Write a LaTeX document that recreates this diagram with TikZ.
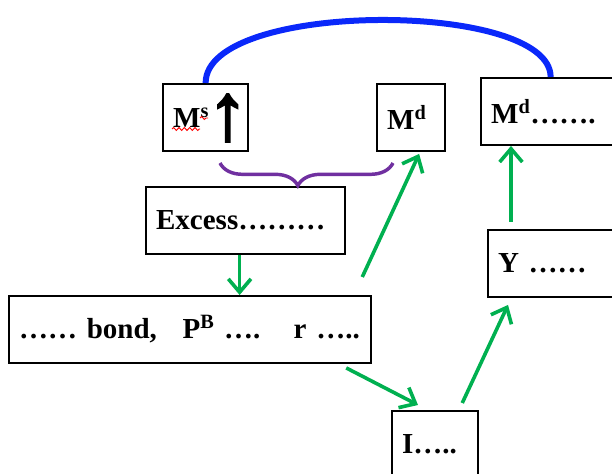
\documentclass[tikz,border=0pt]{standalone}
\usepackage{fontspec}
\setmainfont{Liberation Serif}
\newfontfamily\arrowfont[FakeBold=3]{Liberation Serif}
\usetikzlibrary{arrows.meta,calc,decorations.pathreplacing,decorations.pathmorphing}
\definecolor{flowgreen}{RGB}{0,176,80}
\definecolor{bracepurple}{RGB}{112,48,160}
\definecolor{arcblue}{RGB}{10,40,250}
\newcommand{\upglyph}{\smash{\arrowfont\fontsize{60}{60}\selectfont\raisebox{-9pt}{↑}}}

\begin{document}
\begin{tikzpicture}[x=0.75pt, y=-0.75pt,
  box/.style={draw, line width=1.7pt, anchor=north west, align=left,
    inner xsep=7.5pt, inner ysep=0pt, minimum height=50pt,
    font=\fontsize{21.75}{26}\selectfont\bfseries},
  flow/.style={draw=flowgreen, line width=2.7pt,
    -{Straight Barb[length=10pt,width=17pt]}}]
\useasboundingbox (0,0) rectangle (612,474);
\clip (0,0) rectangle (612,474);

% money market boxes (top row)
\node[box, text width=48.75pt] (ms) at (162,83) {\mbox{M\textsuperscript{s}\kern-1pt\upglyph}};
\node[box, text width=36pt] (md) at (376,83) {M\textsuperscript{d}};
\node[box, text width=89.25pt] (mdd) at (480,77) {M\textsuperscript{d}…….};

% middle and lower boxes
\node[box, text width=134.25pt] (excess) at (145,186) {Excess………};
\node[box, text width=256.5pt] (bond) at (8,295)
  {\mbox{…… bond,\hspace{0.55em} P\textsuperscript{B} ….\hspace{0.65em} r …..}};
\node[box, text width=90pt] (y) at (487,229) {Y ……};
\node[box, text width=49.5pt] (i) at (391,410) {I…..};

% red spell-check squiggle under M^s
\draw[red, line width=0.7pt, decorate,
  decoration={snake, amplitude=1.1pt, segment length=4pt}] (172,129) -- (200,129);
\draw[red, line width=0.7pt, decorate,
  decoration={snake, amplitude=1.1pt, segment length=4pt}] (200,118) -- (208,118);

% blue arc joining supply and demand
\draw[arcblue, line width=4.5pt] (ms.north) .. controls +(0,-83) and +(0,-77) .. (mdd.north);

% purple brace under M^s and M^d
\coordinate (braceleft) at (220,163);
\coordinate (braceright) at (393,163);
\draw[bracepurple, line width=2.6pt, decorate,
  decoration={brace, amplitude=17pt, aspect=0.45, mirror}] (braceleft) -- (braceright);

% green chain of effects
\draw[flow] ($(excess.south)+(-6,0)$) -- ($(excess.south |- bond.north)+(-6,0)$);
\draw[flow] ($(bond.north east)+(-10,-18)$) -- ($(md.south)+(8,2)$);
\draw[flow] ($(bond.south east)+(-26,4)$) -- ($(i.north west)+(27,-5)$);
\draw[flow] ($(i.north east)+(-17,-7)$) -- ($(y.south west)+(21,7)$);
\draw[flow] ($(y.north west)+(24,-7)$) -- ($(mdd.south west)+(31,0)$);
\end{tikzpicture}
\end{document}
